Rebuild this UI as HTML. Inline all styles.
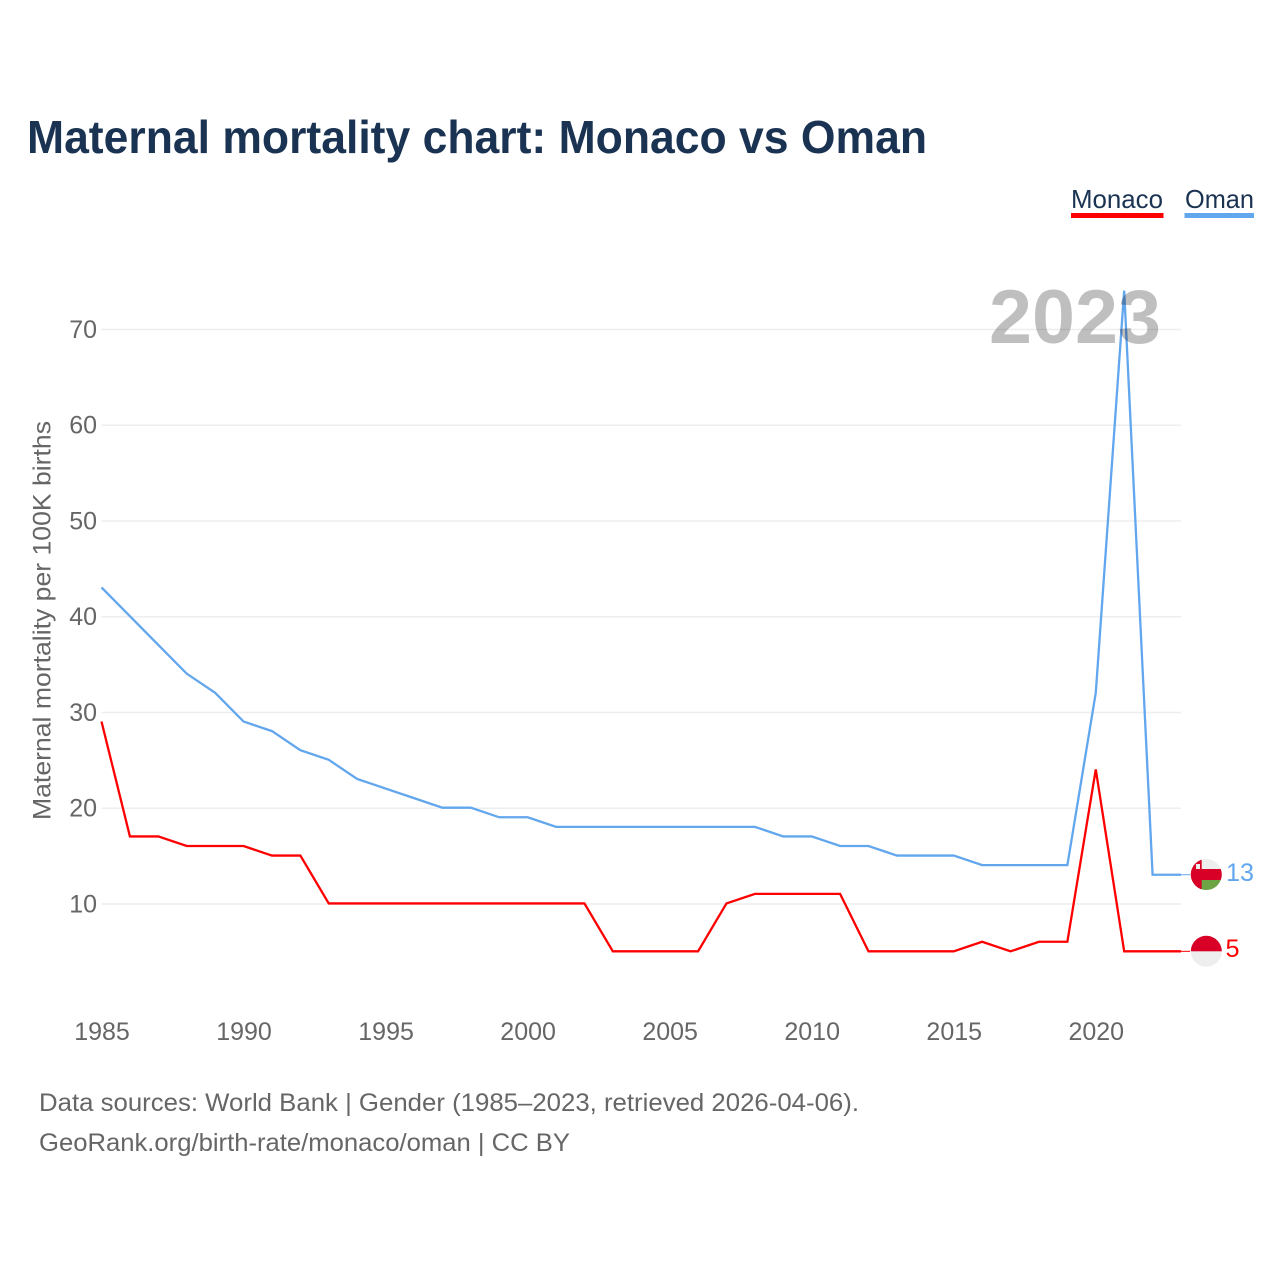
<!DOCTYPE html>
<html lang="en">
<head>
<meta charset="utf-8">
<title>Maternal mortality chart: Monaco vs Oman</title>
<style>
html,body{margin:0;padding:0;background:#fff;}
svg{display:block;font-family:"Liberation Sans",sans-serif;}
</style>
</head>
<body>
<svg id="chart" width="1280" height="1280" viewBox="0 0 1280 1280" xmlns="http://www.w3.org/2000/svg">
  <defs>
    <clipPath id="clip-oman"><circle cx="1206.3" cy="874.5" r="15.5"/></clipPath>
    <clipPath id="clip-monaco"><circle cx="1206.3" cy="951.3" r="15.5"/></clipPath>
  </defs>
  <rect x="0" y="0" width="1280" height="1280" fill="#ffffff"/>
  <text x="27" y="153" font-size="46" font-weight="700" fill="#1a3352" textLength="900" lengthAdjust="spacingAndGlyphs">Maternal mortality chart: Monaco vs Oman</text>

  <g>
    <text x="1071" y="208" font-size="26" fill="#1a3352" textLength="92" lengthAdjust="spacingAndGlyphs">Monaco</text>
    <rect x="1071" y="213" width="92.5" height="5" fill="#ff0000"/>
  </g>
  <g>
    <text x="1185" y="208" font-size="26" fill="#1a3352" textLength="69" lengthAdjust="spacingAndGlyphs">Oman</text>
    <rect x="1184.5" y="213" width="69.5" height="5" fill="#62a6ee"/>
  </g>

  <g id="grid"></g>
  <g id="y-ticks"></g>
  <g id="x-ticks"></g>
  <text transform="translate(50.5 820) rotate(-90)" x="0" y="0" font-size="25" fill="#666666" textLength="399" lengthAdjust="spacingAndGlyphs">Maternal mortality per 100K births</text>

  <g id="series" transform="translate(0 -0.5)"></g>

  <text x="989" y="343" font-size="76" font-weight="700" fill="#000000" fill-opacity="0.25" textLength="172" lengthAdjust="spacingAndGlyphs">2023</text>

  <g clip-path="url(#clip-oman)">
    <rect x="1190" y="858" width="33" height="33" fill="#eeeeee"/>
    <rect x="1190" y="880" width="33" height="11" fill="#6da544"/>
    <rect x="1190" y="869" width="33" height="11" fill="#d80027"/>
    <rect x="1190" y="858" width="11.7" height="33" fill="#d80027"/>
    <rect x="1196" y="864" width="4" height="5" fill="#eeeeee"/>
  </g>
  <g clip-path="url(#clip-monaco)">
    <rect x="1190" y="935" width="33" height="33" fill="#eeeeee"/>
    <rect x="1190" y="935" width="33" height="16.3" fill="#d80027"/>
  </g>
  <text id="end-oman" x="1226" y="881" font-size="25" fill="#62a6ee" textLength="28" lengthAdjust="spacingAndGlyphs"></text>
  <text id="end-monaco" x="1225.5" y="957" font-size="25" fill="#ff0000" textLength="14" lengthAdjust="spacingAndGlyphs"></text>

  <text x="39" y="1111" font-size="25" fill="#666666" textLength="820" lengthAdjust="spacingAndGlyphs">Data sources: World Bank | Gender (1985–2023, retrieved 2026-04-06).</text>
  <text x="39" y="1151" font-size="25" fill="#666666" textLength="531" lengthAdjust="spacingAndGlyphs">GeoRank.org/birth-rate/monaco/oman | CC BY</text>
</svg>
<script>
const years = [1985,1986,1987,1988,1989,1990,1991,1992,1993,1994,1995,1996,1997,1998,1999,2000,2001,2002,2003,2004,2005,2006,2007,2008,2009,2010,2011,2012,2013,2014,2015,2016,2017,2018,2019,2020,2021,2022,2023];
const omanValues = [43,40,37,34,32,29,28,26,25,23,22,21,20,20,19,19,18,18,18,18,18,18,18,18,17,17,16,16,15,15,15,14,14,14,14,32,74,13,13];
const monacoValues = [29,17,17,16,16,16,15,15,10,10,10,10,10,10,10,10,10,10,5,5,5,5,10,11,11,11,11,5,5,5,5,6,5,6,6,24,5,5,5];
const yTickValues = [10,20,30,40,50,60,70];
const xTickValues = [1985,1990,1995,2000,2005,2010,2015,2020];

const SVG_NS = 'http://www.w3.org/2000/svg';
const plotLeft = 101.5, plotRight = 1181, yZero = 999.7, yPerUnit = 9.575;
const xScale = function (year) { return plotLeft + (year - 1985) * (plotRight - plotLeft) / (2023 - 1985); };
const yScale = function (value) { return yZero - value * yPerUnit; };

const gridGroup = document.getElementById('grid');
const yTickGroup = document.getElementById('y-ticks');
const xTickGroup = document.getElementById('x-ticks');
const seriesGroup = document.getElementById('series');

yTickValues.forEach(function (v) {
  const line = document.createElementNS(SVG_NS, 'line');
  
  
  line.setAttribute('x1', plotLeft);
  line.setAttribute('x2', plotRight);
  line.setAttribute('y1', yScale(v));
  line.setAttribute('y2', yScale(v));
  line.setAttribute('stroke', '#eeeeee');
  line.setAttribute('stroke-width', '1.5');
  gridGroup.appendChild(line);

  const label = document.createElementNS(SVG_NS, 'text');
  
  
  label.setAttribute('x', 97);
  label.setAttribute('y', yScale(v) + 8.5);
  label.setAttribute('text-anchor', 'end');
  label.setAttribute('font-size', '25');
  label.setAttribute('fill', '#666666');
  label.textContent = v;
  yTickGroup.appendChild(label);
});

xTickValues.forEach(function (year) {
  const label = document.createElementNS(SVG_NS, 'text');
  
  
  label.setAttribute('x', xScale(year) + 0.5);
  label.setAttribute('y', 1040);
  label.setAttribute('text-anchor', 'middle');
  label.setAttribute('font-size', '25');
  label.setAttribute('fill', '#666666');
  label.textContent = year;
  xTickGroup.appendChild(label);
});

function linePoints(values) {
  return values.map(function (v, i) {
    return xScale(years[i]).toFixed(2) + ',' + yScale(v).toFixed(2);
  }).join(' ');
}

const omanLine = document.createElementNS(SVG_NS, 'polyline');


omanLine.setAttribute('points', linePoints(omanValues));
omanLine.setAttribute('fill', 'none');
omanLine.setAttribute('stroke', '#62a6ee');
omanLine.setAttribute('stroke-width', '2.3');
seriesGroup.appendChild(omanLine);

const monacoLine = document.createElementNS(SVG_NS, 'polyline');


monacoLine.setAttribute('points', linePoints(monacoValues));
monacoLine.setAttribute('fill', 'none');
monacoLine.setAttribute('stroke', '#ff0000');
monacoLine.setAttribute('stroke-width', '2.3');
seriesGroup.appendChild(monacoLine);

const omanLast = omanValues[omanValues.length - 1];
const monacoLast = monacoValues[monacoValues.length - 1];

const omanLeader = document.createElementNS(SVG_NS, 'line');


omanLeader.setAttribute('x1', plotRight);
omanLeader.setAttribute('x2', 1190);
omanLeader.setAttribute('y1', yScale(omanLast));
omanLeader.setAttribute('y2', yScale(omanLast));
omanLeader.setAttribute('stroke', '#62a6ee');
omanLeader.setAttribute('stroke-width', '1');
seriesGroup.appendChild(omanLeader);

const monacoLeader = document.createElementNS(SVG_NS, 'line');


monacoLeader.setAttribute('x1', plotRight);
monacoLeader.setAttribute('x2', 1190);
monacoLeader.setAttribute('y1', yScale(monacoLast));
monacoLeader.setAttribute('y2', yScale(monacoLast));
monacoLeader.setAttribute('stroke', '#ff0000');
monacoLeader.setAttribute('stroke-width', '1');
seriesGroup.appendChild(monacoLeader);

document.getElementById('end-oman').textContent = omanLast;
document.getElementById('end-monaco').textContent = monacoLast;
</script>
</body>
</html>
